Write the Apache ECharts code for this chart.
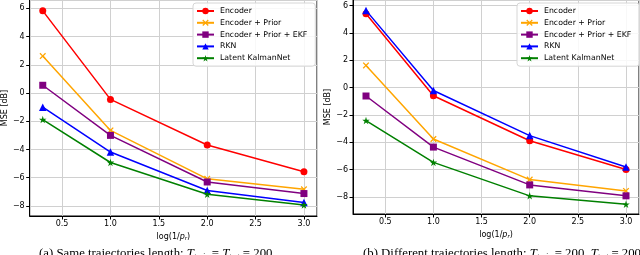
<!DOCTYPE html>
<html><head><meta charset="utf-8">
<script src="https://cdn.jsdelivr.net/npm/echarts@6/dist/echarts.min.js"></script>
<style>html,body{margin:0;padding:0;background:#fff}#c{width:640px;height:255px}</style>
</head><body><div id="c"></div>
<script>
const xValues = [0.3, 1.0, 2.0, 3.0];
const seriesNames = ['Encoder', 'Encoder + Prior', 'Encoder + Prior + EKF', 'RKN', 'Latent KalmanNet'];
// Panel (a): same trajectories length
const aEncoder = [5.82, -0.45, -3.68, -5.58];
const aPrior   = [2.62, -2.65, -6.08, -6.82];
const aEKF     = [0.55, -3.0, -6.3, -7.12];
const aRKN     = [-1.0, -4.18, -6.9, -7.76];
const aLatent  = [-1.88, -4.92, -7.17, -7.93];
// Panel (b): different trajectories length
const bEncoder = [5.41, -0.6, -3.9, -6.0];
const bPrior   = [1.62, -3.77, -6.74, -7.57];
const bEKF     = [-0.62, -4.36, -7.13, -7.93];
const bRKN     = [5.65, -0.22, -3.52, -5.82];
const bLatent  = [-2.42, -5.48, -7.93, -8.55];
const xTicks = [0.5, 1.0, 1.5, 2.0, 2.5, 3.0];
const yTicks = [-8, -6, -4, -2, 0, 2, 4, 6];

const colors = ['#ff0000', '#ffa500', '#800080', '#0000ff', '#008000'];
const STAR = 'path://M100 0 L122.45 69.1 L195.11 69.1 L136.33 111.8 L158.78 180.9 L100 138.2 L41.22 180.9 L63.67 111.8 L4.89 69.1 L77.55 69.1 Z';
const XMARK = 'path://M0 14 L14 0 L50 36 L86 0 L100 14 L64 50 L100 86 L86 100 L50 64 L14 100 L0 86 L36 50 Z';
const symbols = ['circle', XMARK, 'rect', 'triangle', STAR];
const symSizes = [7, 6.5, 7, 7.5, 7.5];

const FONT = 'DejaVu Sans';
const FS = 8;
const fmtY = v => yTicks.indexOf(v) < 0 ? '' : (v < 0 ? '\u2212' + Math.abs(v) : String(v));
const fmtX = v => xTicks.some(t => Math.abs(t - v) < 1e-9) ? v.toFixed(1) : '';

function xAxis(gi) {
  return {
    type: 'value', gridIndex: gi, min: 0.165, max: 3.135, splitNumber: 6,
    name: '{a|log(1/}{i|p}{s|r}{a|)}', nameLocation: 'middle', nameGap: 15,
    nameTextStyle: { rich: {
      a: { fontFamily: FONT, fontSize: FS, color: '#000' },
      i: { fontFamily: FONT, fontSize: FS, fontStyle: 'italic', color: '#000' },
      s: { fontFamily: FONT, fontSize: 5.5, fontStyle: 'italic', color: '#000', padding: [4, 0, 0, 0] } } },
    axisLine: { show: true, onZero: false, lineStyle: { color: '#000', width: 1 } },
    axisTick: { show: true, length: 3.5, lineStyle: { color: '#000' } },
    axisLabel: { formatter: fmtX, fontFamily: FONT, fontSize: FS, color: '#000', margin: 4, showMinLabel: false, showMaxLabel: false },
    splitLine: { show: true, lineStyle: { color: '#d0d0d0', width: 1 } }
  };
}
function yAxis(gi, min, max) {
  return {
    type: 'value', gridIndex: gi, min: min, max: max, splitNumber: 7,
    name: 'MSE [dB]', nameLocation: 'middle', nameGap: 19, nameRotate: 90,
    nameTextStyle: { fontFamily: FONT, fontSize: FS, color: '#000' },
    axisLine: { show: true, onZero: false, lineStyle: { color: '#000', width: 1 } },
    axisTick: { show: true, length: 3.5, lineStyle: { color: '#000' } },
    axisLabel: { formatter: fmtY, fontFamily: FONT, fontSize: FS, color: '#000', margin: 5, showMinLabel: false, showMaxLabel: false },
    splitLine: { show: true, lineStyle: { color: '#d0d0d0', width: 1 } }
  };
}
function mk(name, i, vals, gi) {
  return {
    name: name, type: 'line', xAxisIndex: gi, yAxisIndex: gi,
    data: xValues.map((x, k) => [x, vals[k]]),
    symbol: symbols[i], symbolSize: symSizes[i], showAllSymbol: true,
    itemStyle: { color: colors[i], borderWidth: 0 },
    lineStyle: { color: colors[i], width: 1.5 },
    animation: false, z: 2 + i
  };
}
function legend(left, top) {
  return {
    data: seriesNames, orient: 'vertical', left: left, top: top,
    itemWidth: 17, itemHeight: 8, itemGap: 3.8,
    padding: [4, 8, 4, 3], backgroundColor: 'rgba(255,255,255,0.85)',
    borderColor: '#d6d6d6', borderWidth: 1, borderRadius: 3,
    textStyle: { fontFamily: FONT, fontSize: 7.8, color: '#000', padding: [0, 0, 0, 1] },
    selectedMode: false
  };
}
const A = [aEncoder, aPrior, aEKF, aRKN, aLatent];
const B = [bEncoder, bPrior, bEKF, bRKN, bLatent];
const series = [];
seriesNames.forEach((n, i) => series.push(mk(n, i, A[i], 0)));
seriesNames.forEach((n, i) => series.push(mk(n, i, B[i], 1)));

const rich = {
  r: { fontFamily: 'Liberation Serif', fontSize: 12.8, fill: '#000' },
  i: { fontFamily: 'Liberation Serif', fontSize: 12.8, fontStyle: 'italic', fill: '#000' },
  s: { fontFamily: 'Liberation Serif', fontSize: 7.5, fontStyle: 'italic', fill: '#000', padding: [7, 0, 0, 0] }
};

const chart = echarts.init(document.getElementById('c'), null, { renderer: 'canvas' });
chart.setOption({
  animation: false,
  backgroundColor: '#fff',
  grid: [
    { left: 29, top: 0, width: 288, height: 216, show: true, borderColor: '#000', borderWidth: 1, backgroundColor: 'transparent' },
    { left: 353, top: 0, width: 286, height: 214, show: true, borderColor: '#000', borderWidth: 1, backgroundColor: 'transparent' }
  ],
  xAxis: [xAxis(0), xAxis(1)],
  yAxis: [yAxis(0, -8.71, 6.59), yAxis(1, -9.26, 6.41)],
  legend: [legend(193, 3), legend(517, 3)],
  series: series,
  graphic: [
    { type: 'text', left: 39, top: 247.5, style: { text: '{r|(a) Same trajectories length: }{i|T}{s|train}{r| = }{i|T}{s|test}{r| = 200}', rich: rich } },
    { type: 'text', left: 363, top: 247.5, style: { text: '{r|(b) Different trajectories length: }{i|T}{s|train}{r| = 200, }{i|T}{s|test}{r| = 2000}', rich: rich } }
  ]
});
</script></body></html>
